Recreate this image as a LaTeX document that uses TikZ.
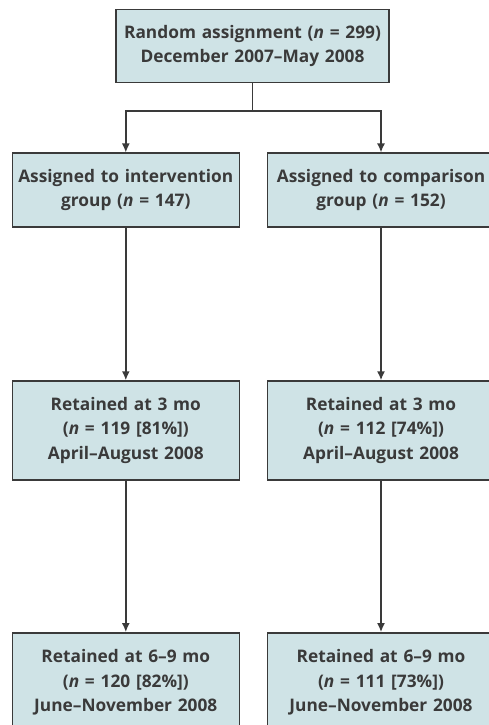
\documentclass[tikz,border=0pt]{standalone}
\usepackage{fontspec}
\setmainfont{Open Sans}
\usepackage{tikz}
\usetikzlibrary{arrows.meta, positioning}
\definecolor{boxblue}{RGB}{207, 227, 230}
\definecolor{linegray}{RGB}{58, 58, 58}
\tikzstyle{topbox}=[rectangle, draw=linegray, fill=boxblue, line width=1.5pt, inner sep=0pt, text width=273pt, minimum height=73pt, align=center, font=\fontsize{17.3}{24.5}\selectfont\bfseries, text=linegray]
\tikzstyle{groupbox}=[topbox, text width=227pt, minimum height=74pt]
\tikzstyle{retainbox}=[topbox, text width=227pt, minimum height=99pt]
\tikzstyle{arrow}=[line width=1.5pt, draw=linegray, ->, >={Latex[length=9pt,width=8pt]}]

\begin{document}
\begin{tikzpicture}
		\useasboundingbox (0pt,0pt) rectangle (489pt,-725pt);
		\node(n1)[topbox] at (252.5pt,-45.8pt){Random assignment (\textit{n} = 299)\\December 2007--May 2008};
		\node(n2-1)[groupbox,below=69.4pt of n1,xshift=-126.7pt]{Assigned to intervention\\group (\textit{n} = 147)};
		\node(n2-2)[groupbox,right=26.7pt of n2-1]{Assigned to comparison\\group (\textit{n} = 152)};
		\node(n3-1)[retainbox,below=152.3pt of n2-1]{Retained at 3 mo\\(\textit{n} = 119 [81\%])\\April--August 2008};
		\node(n3-2)[retainbox,below=152.3pt of n2-2]{Retained at 3 mo\\(\textit{n} = 112 [74\%])\\April--August 2008};
		\node(n4-1)[retainbox,below=151.3pt of n3-1]{Retained at 6--9 mo\\(\textit{n} = 120 [82\%])\\June--November 2008};
		\node(n4-2)[retainbox,below=151.3pt of n3-2]{Retained at 6--9 mo\\(\textit{n} = 111 [73\%])\\June--November 2008};
		\coordinate(split) at ([yshift=-27.7pt]n1.south);
		
		\draw[line width=1.5pt, draw=linegray](n1.south)--(split);
		\draw[arrow](split)-|(n2-1.north);
		\draw[arrow](split)-|(n2-2.north);
		\draw[arrow](n2-1)--(n3-1);
		\draw[arrow](n2-2)--(n3-2);
		\draw[arrow](n3-1)--(n4-1);
		\draw[arrow](n3-2)--(n4-2);
	\end{tikzpicture}
\end{document}
